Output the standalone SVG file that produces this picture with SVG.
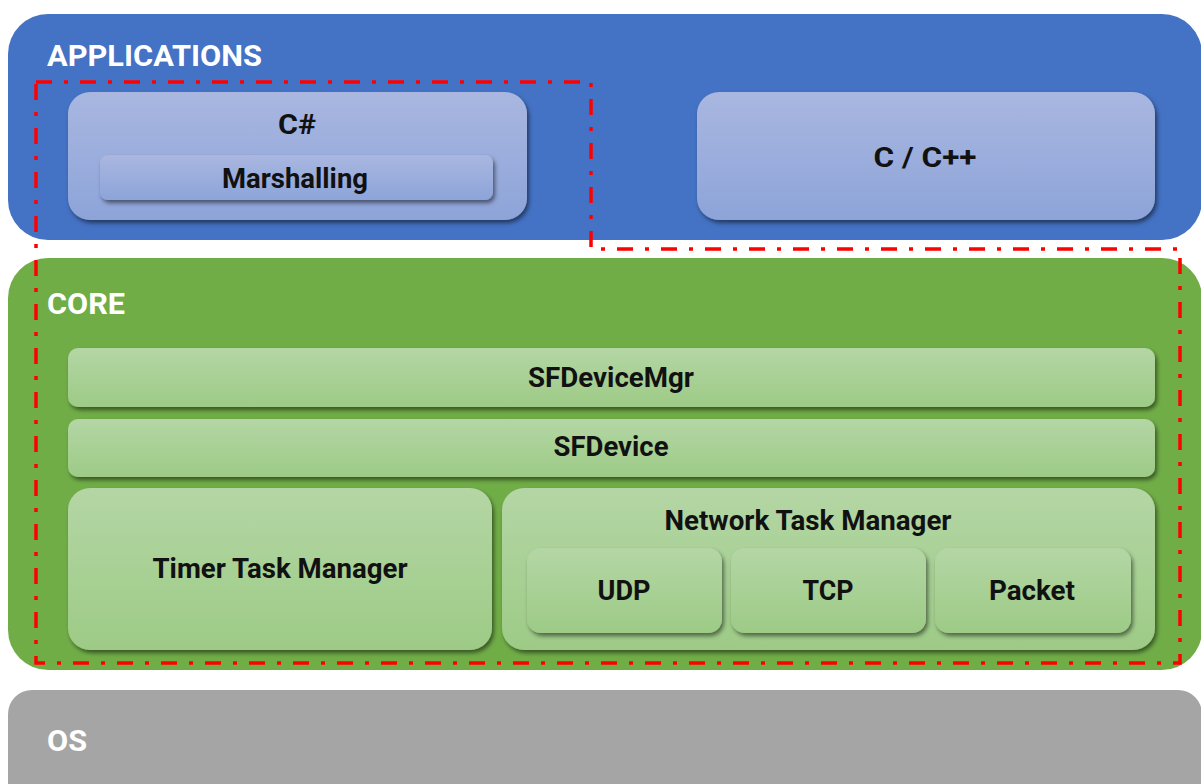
<svg xmlns="http://www.w3.org/2000/svg" width="1201" height="784" viewBox="0 0 1201 784">
<defs>
<linearGradient id="gBlue" x1="0" y1="0" x2="0" y2="1"><stop offset="0" stop-color="#a9b7e0"/><stop offset="1" stop-color="#8da4d9"/></linearGradient>
<linearGradient id="gGreen" x1="0" y1="0" x2="0" y2="1"><stop offset="0" stop-color="#b4d6a5"/><stop offset="1" stop-color="#9dcb86"/></linearGradient>
<filter id="sh" x="-10%" y="-10%" width="120%" height="130%"><feDropShadow dx="2" dy="3" stdDeviation="2" flood-color="#000" flood-opacity="0.5"/></filter>
</defs>
<style>
.lbl{font-family:Roboto,"Liberation Sans",sans-serif;font-weight:700;fill:#ffffff;font-size:30px}
.t{font-family:Roboto,"Liberation Sans",sans-serif;font-weight:700;fill:#111111;font-size:27px;text-anchor:middle}
.blue{fill:url(#gBlue);filter:url(#sh)}
.green{fill:url(#gGreen);filter:url(#sh)}
.boundary{fill:none;stroke:#ff0000;stroke-width:3.5;stroke-dasharray:16 12 4 12}
</style>
<rect width="1201" height="784" fill="#ffffff"/>
<g id="applications">
<rect x="8" y="14" width="1194" height="226" rx="40" fill="#4472c4"/>
<text class="lbl" x="47" y="66" textLength="215" lengthAdjust="spacingAndGlyphs">APPLICATIONS</text>
</g>
<g id="csharp">
<rect class="blue" x="68" y="92" width="459" height="128" rx="22"/>
<text class="t" x="297" y="134" textLength="38" lengthAdjust="spacingAndGlyphs">C#</text>
</g>
<g id="marshalling">
<rect class="blue" x="100" y="155" width="393" height="45" rx="8"/>
<text class="t" x="295" y="188" textLength="146" lengthAdjust="spacingAndGlyphs">Marshalling</text>
</g>
<g id="ccpp">
<rect class="blue" x="697" y="92" width="458" height="128" rx="22"/>
<text class="t" x="925" y="167" textLength="103" lengthAdjust="spacingAndGlyphs">C / C++</text>
</g>
<g id="core">
<rect x="8" y="258" width="1194" height="412" rx="40" fill="#70ad47"/>
<text class="lbl" x="47" y="314" textLength="78" lengthAdjust="spacingAndGlyphs">CORE</text>
</g>
<g id="sfdevicemgr">
<rect class="green" x="68" y="348" width="1087" height="59" rx="10"/>
<text class="t" x="611" y="387" textLength="166" lengthAdjust="spacingAndGlyphs">SFDeviceMgr</text>
</g>
<g id="sfdevice">
<rect class="green" x="68" y="419" width="1087" height="58" rx="10"/>
<text class="t" x="611" y="456" textLength="115" lengthAdjust="spacingAndGlyphs">SFDevice</text>
</g>
<g id="timer">
<rect class="green" x="68" y="488" width="424" height="162" rx="22"/>
<text class="t" x="280" y="578" textLength="255" lengthAdjust="spacingAndGlyphs">Timer Task Manager</text>
</g>
<g id="network">
<rect class="green" x="502" y="488" width="653" height="162" rx="22"/>
<text class="t" x="808" y="530" textLength="287" lengthAdjust="spacingAndGlyphs">Network Task Manager</text>
</g>
<g id="udp">
<rect class="green" x="527" y="548" width="195" height="85" rx="14"/>
<text class="t" x="624" y="600" textLength="53" lengthAdjust="spacingAndGlyphs">UDP</text>
</g>
<g id="tcp">
<rect class="green" x="731" y="548" width="195" height="85" rx="14"/>
<text class="t" x="828" y="600" textLength="51" lengthAdjust="spacingAndGlyphs">TCP</text>
</g>
<g id="packet">
<rect class="green" x="935" y="548" width="196" height="85" rx="14"/>
<text class="t" x="1032" y="600" textLength="86" lengthAdjust="spacingAndGlyphs">Packet</text>
</g>
<g id="os">
<rect x="8" y="690" width="1194" height="130" rx="24" fill="#a5a5a5"/>
<text class="lbl" x="47" y="751" textLength="40" lengthAdjust="spacingAndGlyphs">OS</text>
</g>
<g id="connectors">
<path class="boundary" d="M36,82 H591 V249 H1180 V663 H36 Z"/>
</g>
</svg>
